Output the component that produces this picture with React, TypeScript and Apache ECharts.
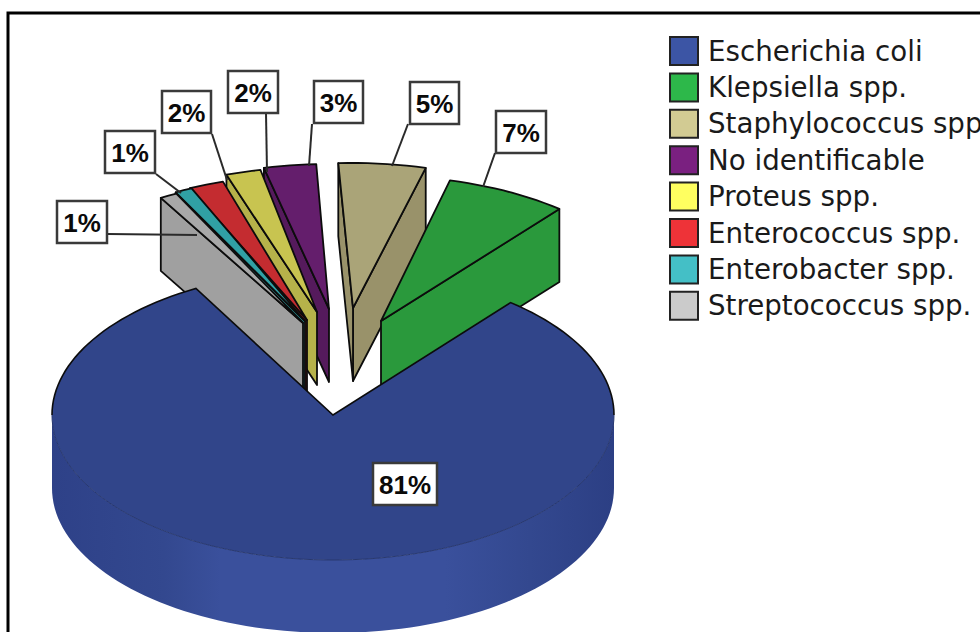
import React, { useEffect, useRef } from "react";
import * as echarts from "echarts";

// Isolates as a share of all samples, in legend order.
const categories = [
  "Escherichia coli",
  "Klepsiella spp.",
  "Staphylococcus spp.",
  "No identificable",
  "Proteus spp.",
  "Enterococcus spp.",
  "Enterobacter spp.",
  "Streptococcus spp.",
];
const percents = [81, 7, 5, 3, 2, 2, 1, 1];

const legendColors = ["#3c55a5", "#2db84a", "#d2cb93", "#7a2080", "#ffff60", "#ee3338", "#44bfc6", "#cbcbcb"];
const topColors = ["#31458a", "#2a993c", "#aaa478", "#641e6c", "#c8c450", "#c42c30", "#30a0a4", "#a8a8a8"];
const wallColors = ["#3a4f9c", "#2a993c", "#99926a", "#551a5c", "#b6b24a", "#a02428", "#2a8a8e", "#a0a0a0"];

// Exploded placement of each wedge: where its point sits and the ellipse angle it starts from.
const apexX = [333, 381, 353, 329, 317, 307, 305, 303];
const apexY = [415, 321, 308, 309, 312, 320, 321, 323];
const startAngles = [50.8, 50.6, 75, 92.6, 101.6, 107.4, 113.8, 116.8];

// Label boxes [x0, y0, x1, y1] and their leader lines [x0, y0, x1, y1].
const labelBoxes = [
  [373, 463, 437, 505],
  [496, 111, 546, 153],
  [410, 82, 459, 124],
  [314, 81, 363, 123],
  [228, 71, 278, 113],
  [162, 91, 211, 133],
  [105, 131, 155, 173],
  [57, 201, 107, 243],
];
const leaders = [
  null,
  [495, 153, 483, 187],
  [408, 124, 392, 166],
  [312, 124, 309, 166],
  [266, 113, 267, 172],
  [212, 134, 227, 180],
  [156, 174, 181, 193],
  [108, 234, 197, 235],
];

// Back-to-front painting order of the wedges.
const paintOrder = [2, 1, 3, 4, 5, 6, 7, 0];

const RX = 281;
const RY = 145;
const DEPTH = 73;
const DEG_PER_PERCENT = 3.6;
const EDGE = "#0c0c0c";

const rim = (cx: number, cy: number, deg: number) => {
  const t = (deg * Math.PI) / 180;
  return [cx + RX * Math.cos(t), cy - RY * Math.sin(t)];
};

const arcPoints = (cx: number, cy: number, from: number, to: number) => {
  const steps = Math.max(2, Math.ceil(Math.abs(to - from) / 2));
  const pts: number[][] = [];
  for (let i = 0; i <= steps; i++) pts.push(rim(cx, cy, from + ((to - from) * i) / steps));
  return pts;
};

const drop = (p: number[]) => [p[0], p[1] + DEPTH];

const labelElements = (i: number, value: number) => {
  const [x0, y0, x1, y1] = labelBoxes[i];
  const els: any[] = [];
  const lead = leaders[i];
  if (lead) {
    els.push({
      type: "line",
      shape: { x1: lead[0], y1: lead[1], x2: lead[2], y2: lead[3] },
      style: { stroke: "#2a2a2a", lineWidth: 2 },
    });
  }
  els.push({
    type: "rect",
    shape: { x: x0, y: y0, width: x1 - x0, height: y1 - y0 },
    style: { fill: "#ffffff", stroke: "#3a3a3a", lineWidth: 2.5 },
  });
  els.push({
    type: "text",
    style: {
      x: (x0 + x1) / 2,
      y: (y0 + y1) / 2 + 1,
      text: `${value}%`,
      fill: "#0a0a0a",
      font: 'bold 26px "Liberation Sans", Arial, sans-serif',
      align: "center",
      verticalAlign: "middle",
    },
  });
  return els;
};

const wedge = (i: number) => (_params: any, api: any) => {
  const value = api.value(0) as number;
  const cx = apexX[i];
  const cy = apexY[i];
  const apex = [cx, cy];
  const children: any[] = [];

  if (i === 0) {
    // The large wedge runs clockwise from its start, through the front of the disc.
    const a0 = startAngles[0];
    const a1 = a0 - value * DEG_PER_PERCENT;
    const frontArc = arcPoints(cx, cy, 180, 360);
    children.push({
      type: "polygon",
      shape: { points: [...frontArc, ...frontArc.slice().reverse().map(drop)] },
      style: {
        fill: new echarts.graphic.LinearGradient(0, 0, 1, 0, [
          { offset: 0, color: "#2e4188" },
          { offset: 0.2, color: "#33488f" },
          { offset: 0.3, color: "#3a509c" },
          { offset: 0.7, color: "#3a509c" },
          { offset: 0.85, color: "#33488f" },
          { offset: 1, color: "#2c3f84" },
        ]),
      },
    });
    children.push({
      type: "polygon",
      shape: { points: [apex, ...arcPoints(cx, cy, a0, a1)] },
      style: { fill: topColors[0] },
    });
    // Faint rim along the front, dark outline along the back and the notch.
    children.push({
      type: "polyline",
      shape: { points: frontArc },
      style: { fill: "none", stroke: "#28386f", lineWidth: 1 },
    });
    children.push({
      type: "polyline",
      shape: {
        points: [...arcPoints(cx, cy, 0, a0), apex, ...arcPoints(cx, cy, a1 + 360, 180)],
      },
      style: { fill: "none", stroke: EDGE, lineWidth: 1.6 },
    });
  } else {
    const a0 = startAngles[i];
    const a1 = a0 + value * DEG_PER_PERCENT;
    const right = rim(cx, cy, a0);
    const left = rim(cx, cy, a1);
    const edge = { stroke: EDGE, lineWidth: 1.8, lineJoin: "round" };
    if (Math.cos((a0 * Math.PI) / 180) > 0) {
      children.push({
        type: "polygon",
        shape: { points: [apex, right, drop(right), drop(apex)] },
        style: { fill: wallColors[i], ...edge },
      });
    }
    if (Math.cos((a1 * Math.PI) / 180) < 0) {
      children.push({
        type: "polygon",
        shape: { points: [apex, left, drop(left), drop(apex)] },
        style: { fill: wallColors[i], ...edge },
      });
    }
    children.push({
      type: "polygon",
      shape: { points: [apex, ...arcPoints(cx, cy, a0, a1)] },
      style: { fill: topColors[i], ...edge },
    });
  }
  children.push(...labelElements(i, value));
  return { type: "group", children };
};

export default function App() {
  const ref = useRef<HTMLDivElement>(null);

  useEffect(() => {
    const chart = echarts.init(ref.current!, undefined, { renderer: "svg" });
    chart.setOption({
      animation: false,
      backgroundColor: "#ffffff",
      legend: {
        orient: "vertical",
        left: 669,
        top: 36,
        padding: 0,
        itemGap: 6.4,
        itemWidth: 28,
        itemHeight: 28,
        selectedMode: false,
        textStyle: {
          fontFamily: '"DejaVu Sans", sans-serif',
          fontSize: 27.7,
          lineHeight: 28,
          color: "#1a1a1a",
          padding: [0, 0, 0, 5],
        },
        data: categories.map((name, i) => ({
          name,
          icon: "rect",
          itemStyle: { color: legendColors[i], borderColor: "#222222", borderWidth: 2 },
        })),
      },
      graphic: [
        {
          type: "polyline",
          silent: true,
          shape: { points: [[8, 632], [8, 13], [980, 13]] },
          style: { fill: "none", stroke: "#000000", lineWidth: 3 },
        },
      ],
      series: paintOrder.map((i) => ({
        type: "custom",
        name: categories[i],
        coordinateSystem: "none",
        silent: true,
        clip: false,
        itemStyle: { color: legendColors[i] },
        data: [[percents[i]]],
        renderItem: wedge(i),
      })),
    });
    return () => chart.dispose();
  }, []);

  return <div ref={ref} style={{ position: "absolute", left: 0, top: 0, width: 980, height: 632 }} />;
}
